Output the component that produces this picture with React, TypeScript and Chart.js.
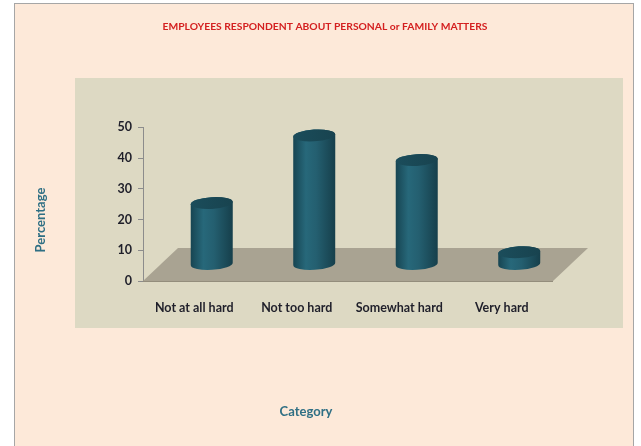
import React, { useEffect, useRef } from "react";
import { Chart, registerables } from "chart.js";

Chart.register(...registerables);

const categories = ["Not at all hard", "Not too hard", "Somewhat hard", "Very hard"];
const percentages = [20, 42, 34, 4];
const yMin = 0;
const yMax = 50;
const yStep = 10;
const chartTitle = "EMPLOYEES RESPONDENT ABOUT PERSONAL or FAMILY MATTERS";
const yTitle = "Percentage";
const xTitle = "Category";

// 3D floor depth in pixels (back edge offset from front edge)
const DEPTH_X = 35;
const DEPTH_Y = -33;

const LABEL_FONT = "Lato, 'Open Sans', sans-serif";

const backgroundPlugin = {
  id: "frameBackground",
  beforeDraw(chart: any) {
    const ctx = chart.ctx;
    ctx.save();
    ctx.fillStyle = "#ffffff";
    ctx.fillRect(0, 0, chart.width, chart.height);
    // outer frame
    ctx.fillStyle = "#FDE9D9";
    ctx.fillRect(14, 3, 619, 460);
    ctx.strokeStyle = "#A6A6A6";
    ctx.lineWidth = 1;
    ctx.strokeRect(14.5, 3.5, 619, 460);
    // inner plot panel
    ctx.fillStyle = "#DDD9C3";
    ctx.fillRect(75, 78, 548, 250);
    ctx.restore();
  },
};

const floorPlugin = {
  id: "floor3d",
  beforeDatasetsDraw(chart: any) {
    const ctx = chart.ctx;
    const xs = chart.scales.x;
    const ys = chart.scales.y;
    const y0 = ys.getPixelForValue(0);
    ctx.save();
    ctx.beginPath();
    ctx.moveTo(xs.left, y0);
    ctx.lineTo(xs.right, y0);
    ctx.lineTo(xs.right + DEPTH_X, y0 + DEPTH_Y);
    ctx.lineTo(xs.left + DEPTH_X, y0 + DEPTH_Y);
    ctx.closePath();
    ctx.fillStyle = "#A9A392";
    ctx.fill();
    ctx.strokeStyle = "#938D7C";
    ctx.lineWidth = 1;
    ctx.beginPath();
    ctx.moveTo(xs.left, y0 + 0.5);
    ctx.lineTo(xs.right, y0 + 0.5);
    ctx.stroke();
    ctx.restore();
  },
};

const cylinderPlugin = {
  id: "cylinders",
  afterDatasetsDraw(chart: any) {
    const ctx = chart.ctx;
    const meta = chart.getDatasetMeta(0);
    ctx.save();
    meta.data.forEach((el: any) => {
      const cx = el.x + DEPTH_X / 2;
      const top = el.y + DEPTH_Y / 2;
      const base = el.base + DEPTH_Y / 2;
      const rx = el.width / 2;
      const ry = rx * 0.28;
      const tilt = -0.06;
      // body
      const g = ctx.createLinearGradient(cx - rx, 0, cx + rx, 0);
      g.addColorStop(0, "#174552");
      g.addColorStop(0.3, "#27687A");
      g.addColorStop(0.55, "#245F70");
      g.addColorStop(1, "#163F4B");
      ctx.beginPath();
      ctx.moveTo(cx - rx, top);
      ctx.lineTo(cx - rx, base);
      ctx.ellipse(cx, base, rx, ry, tilt, Math.PI, 0, true);
      ctx.lineTo(cx + rx, top);
      ctx.ellipse(cx, top, rx, ry, tilt, 0, Math.PI, true);
      ctx.closePath();
      ctx.fillStyle = g;
      ctx.fill();
      // top cap
      const tg = ctx.createLinearGradient(cx - rx, top, cx + rx, top);
      tg.addColorStop(0, "#1B4D5B");
      tg.addColorStop(1, "#18434F");
      ctx.beginPath();
      ctx.ellipse(cx, top, rx, ry, tilt, 0, Math.PI * 2);
      ctx.fillStyle = tg;
      ctx.fill();
    });
    ctx.restore();
  },
};

const axisTitlePlugin = {
  id: "axisTitles",
  afterDraw(chart: any) {
    const ctx = chart.ctx;
    ctx.save();
    ctx.fillStyle = "#2F6F84";
    ctx.font = `bold 13px ${LABEL_FONT}`;
    ctx.textAlign = "center";
    ctx.textBaseline = "middle";
    ctx.fillText(xTitle, 306, 412);
    ctx.translate(41, 220);
    ctx.rotate(-Math.PI / 2);
    ctx.fillText(yTitle, 0, 0);
    ctx.restore();
  },
};

export default function App() {
  const canvasRef = useRef<HTMLCanvasElement | null>(null);

  useEffect(() => {
    if (!canvasRef.current) return;
    const chart = new Chart(canvasRef.current, {
      type: "bar",
      data: {
        labels: categories,
        datasets: [
          {
            label: yTitle,
            data: percentages,
            backgroundColor: "rgba(0,0,0,0)",
            borderWidth: 0,
            barPercentage: 0.41,
            categoryPercentage: 1,
          },
        ],
      },
      options: {
        responsive: false,
        animation: false,
        layout: { padding: { left: 9, right: 0, top: 0, bottom: 0 } },
        plugins: {
          legend: { display: false },
          tooltip: { enabled: false },
          title: {
            display: true,
            text: chartTitle,
            color: "#D42020",
            font: { family: LABEL_FONT, size: 10.3, weight: "bold" },
            padding: { top: 20, bottom: 95 },
          },
        },
        scales: {
          x: {
            grid: { display: false, drawTicks: false },
            border: { display: false },
            ticks: {
              color: "#1F1F2A",
              font: { family: LABEL_FONT, size: 12.5, weight: "bold" },
              padding: 19,
              maxRotation: 0,
            },
            afterFit(scale: any) {
              scale.height = 165;
            },
          },
          y: {
            min: yMin,
            max: yMax,
            ticks: {
              stepSize: yStep,
              color: "#1F1F2A",
              font: { family: LABEL_FONT, size: 12.5, weight: "bold" },
              padding: 6,
            },
            grid: {
              drawOnChartArea: false,
              tickLength: 5,
              color: "#8C8C8C",
            },
            border: { display: true, color: "#8C8C8C" },
            afterFit(scale: any) {
              scale.width = 134;
            },
          },
          yRight: {
            type: "linear",
            position: "right",
            display: true,
            min: yMin,
            max: yMax,
            grid: { display: false, drawTicks: false },
            border: { display: false },
            ticks: { display: false },
            afterFit(scale: any) {
              scale.width = 88;
            },
          },
        },
      },
      plugins: [backgroundPlugin, floorPlugin, cylinderPlugin, axisTitlePlugin],
    });
    return () => chart.destroy();
  }, []);

  return (
    <div style={{ position: "fixed", left: 0, top: 0, width: 641, height: 446 }}>
      <canvas ref={canvasRef} width={641} height={446} />
    </div>
  );
}
